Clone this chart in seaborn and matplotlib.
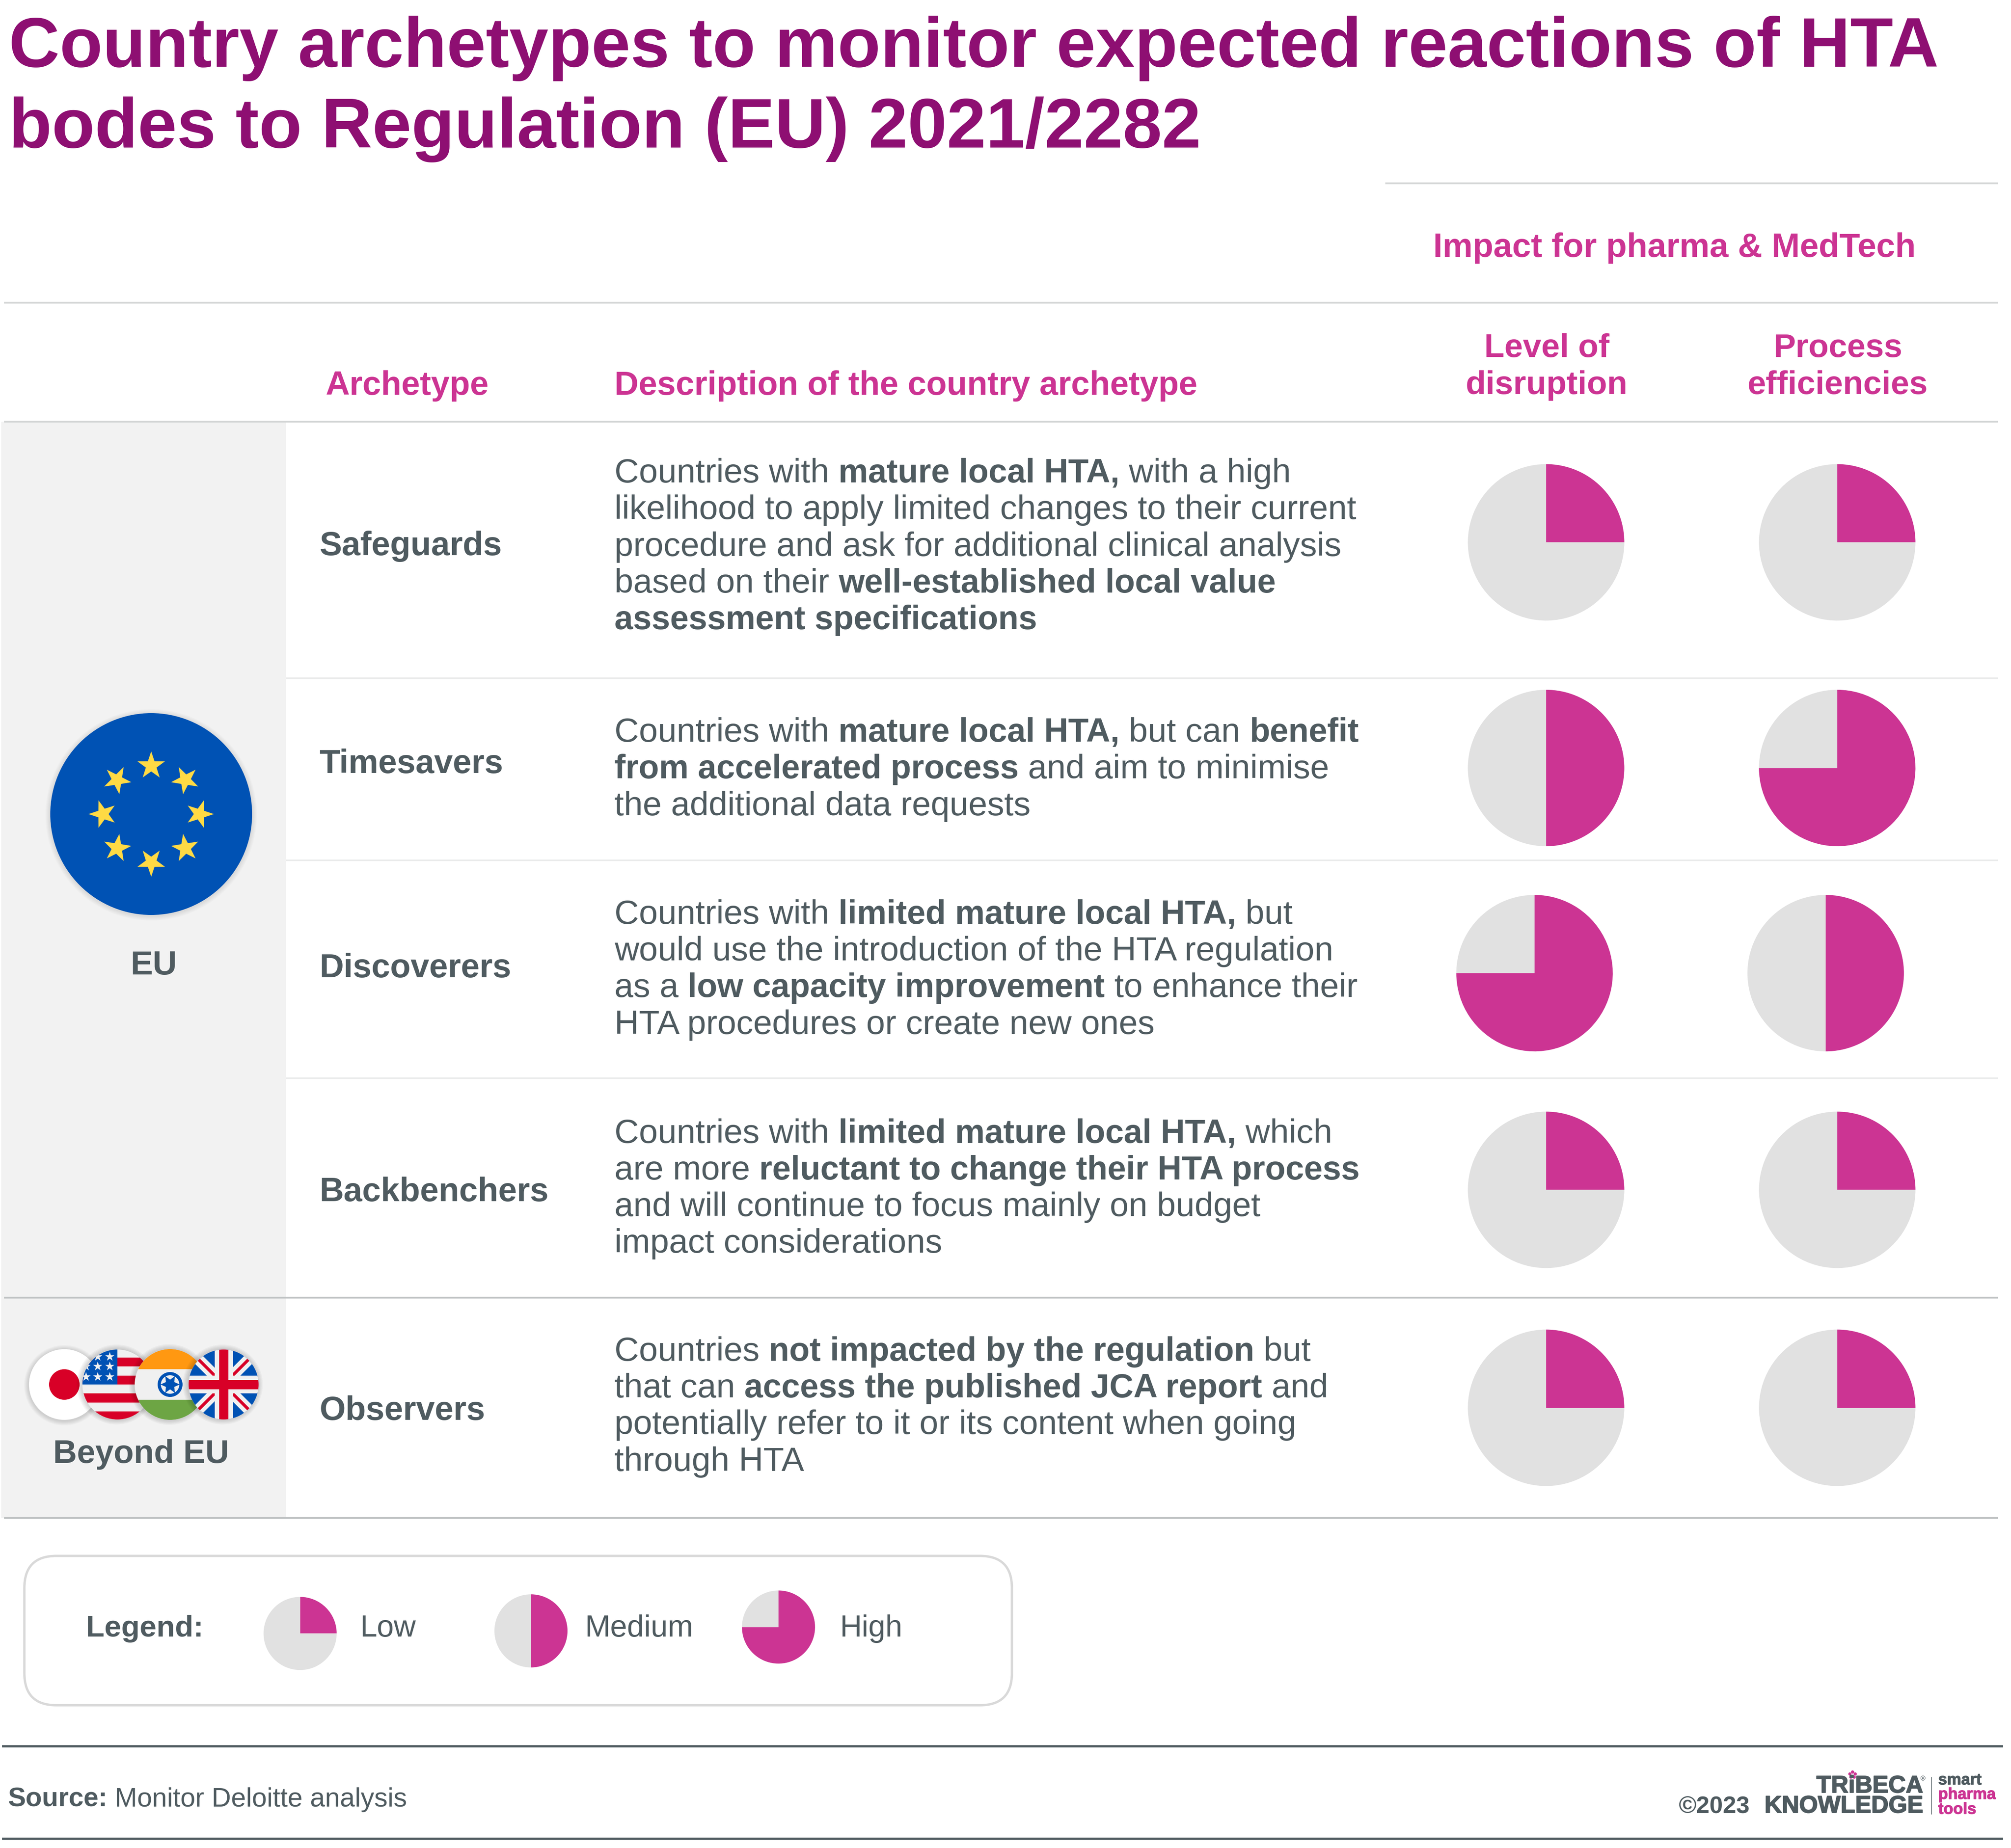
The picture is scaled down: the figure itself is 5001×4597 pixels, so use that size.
#!/usr/bin/env python3
import numpy as np
import seaborn as sns
import matplotlib
matplotlib.use("Agg")
import matplotlib.pyplot as plt
import matplotlib.patheffects as pe
from matplotlib.font_manager import FontProperties
from matplotlib.patches import Circle, FancyBboxPatch, Polygon, Rectangle

W, H = 5001, 4597
S = 5001 / 1568  # layout below is measured on a 1568 wide view

TITLE = ["Country archetypes to monitor expected reactions of HTA",
         "bodes to Regulation (EU) 2021/2282"]
ARCHETYPES = ["Safeguards", "Timesavers", "Discoverers", "Backbenchers", "Observers"]
DESCRIPTIONS = [
    ["Countries with *mature local HTA,* with a high",
     "likelihood to apply limited changes to their current",
     "procedure and ask for additional clinical analysis",
     "based on their *well-established local value*",
     "*assessment specifications*"],
    ["Countries with *mature local HTA,* but can *benefit*",
     "*from accelerated process* and aim to minimise",
     "the additional data requests"],
    ["Countries with *limited mature local HTA,* but",
     "would use the introduction of the HTA regulation",
     "as a *low capacity improvement* to enhance their",
     "HTA procedures or create new ones"],
    ["Countries with *limited mature local HTA,* which",
     "are more *reluctant to change their HTA process*",
     "and will continue to focus mainly on budget",
     "impact considerations"],
    ["Countries *not impacted by the regulation* but",
     "that can *access the published JCA report* and",
     "potentially refer to it or its content when going",
     "through HTA"],
]
DISRUPTION = [0.25, 0.50, 0.75, 0.25, 0.25]
EFFICIENCIES = [0.25, 0.75, 0.50, 0.25, 0.25]
LEGEND_LABELS = ["Low", "Medium", "High"]
LEGEND_SHARES = [0.25, 0.50, 0.75]

# layout, view pixels
DESC_BASE = [376.3, 578.5, 720.5, 891.3, 1061.3]
ARCH_BASE = [433, 603, 762.3, 937, 1107.3]
PIE_Y = [423, 599, 759, 928, 1098]
PIE_X1 = [1205.5, 1205.5, 1196.5, 1205.5, 1205.5]
PIE_X2 = [1432.5, 1432.5, 1423.5, 1432.5, 1432.5]
LEG_PIE = [(234, 1274), (414, 1272), (607, 1269)]
LEG_TEXT = [281, 456, 655]

PURPLE = "#8E0F72"
PINK = "#CC3493"
SLATE = "#4F5B60"
PANEL = "#F2F2F2"
RULE = "#D4D6D6"
BLUE = "#0052B4"
RED = "#D80027"
YELLOW = "#FFDA44"

sns.set_theme(style="white")
plt.rcParams["font.family"] = ["Liberation Sans", "DejaVu Sans"]
PIE_COLORS = sns.color_palette([PINK, "#E1E1E1"])

fig = plt.figure(figsize=(W / 100, H / 100), dpi=100)
ax = fig.add_axes([0, 0, 1, 1])
renderer = fig.canvas.get_renderer()


def X(v):
    return v * S


def Y(v):
    return H - v * S


def advance(s, size, weight):
    fp = FontProperties(family="Liberation Sans", size=size, weight=weight)
    a = renderer.get_text_width_height_descent("|" + s + "|", fp, False)[0]
    b = renderer.get_text_width_height_descent("||", fp, False)[0]
    return a - b


def rich(x, y, line, size, bold_size, color=SLATE):
    # *...* marks the bold runs of a line
    cur = X(x)
    for i, run in enumerate(line.split("*")):
        if not run:
            continue
        weight = "bold" if i % 2 else "normal"
        fs = bold_size if i % 2 else size
        ax.text(cur, Y(y), run, fontsize=fs, color=color, weight=weight, va="baseline", ha="left")
        cur += advance(run, fs, weight)


def label(x, y, s, size=60, color=SLATE, weight="bold", ha="left"):
    return ax.text(X(x), Y(y), s, fontsize=size, color=color, weight=weight, ha=ha, va="baseline", zorder=12)


def hline(y, x0, x1, color=RULE, lw=3.2):
    ax.plot([X(x0), X(x1)], [Y(y), Y(y)], color=color, lw=lw, solid_capstyle="butt", zorder=2)


def share_pie(cx, cy, r, share):
    wedges, _ = ax.pie([share, 1 - share], colors=PIE_COLORS, startangle=90, counterclock=False,
                       center=(X(cx), Y(cy)), radius=r * S, frame=True, wedgeprops={"linewidth": 0})
    for w in wedges:
        w.set_zorder(3)


def soft_shadow(cx, cy, r, alpha=0.022):
    for i in range(6, 0, -1):
        ax.add_patch(Circle((cx, cy - 2), r + i * 2, fc="black", ec="none", alpha=alpha, zorder=3))


def star_points(cx, cy, r_out, r_in, n=5, rot=90):
    ang = np.deg2rad(rot + np.arange(2 * n) * 180 / n)
    rad = np.where(np.arange(2 * n) % 2 == 0, r_out, r_in)
    return np.c_[cx + rad * np.cos(ang), cy + rad * np.sin(ang)]


def clipped(patch, disc):
    ax.add_patch(patch)
    patch.set_clip_path(disc)
    return patch


# panels and rules
ax.add_patch(Rectangle((X(1), Y(1184)), X(222), 855 * S, fc=PANEL, ec="none", zorder=1))
hline(143, 1080, 1558)
hline(236, 3, 1558)
hline(329, 3, 1558)
for yy in [529, 671, 841]:
    hline(yy, 223, 1558, color="#E9EAEA", lw=2.6)
hline(1012, 3, 1558, color="#BFC2C3")
hline(1184, 3, 1558, color="#BFC2C3")
hline(1362, 1.6, 1561.7, color=SLATE, lw=4)
hline(1434, 1.6, 1561.7, color=SLATE, lw=4)
ax.add_patch(FancyBboxPatch((X(19), Y(1330)), 770 * S, 116.5 * S,
                            boxstyle=f"round,pad=0,rounding_size={25 * S}",
                            fc="white", ec="#D9D9D9", lw=4.2, zorder=2))

# title and headers
for line, base in zip(TITLE, [52, 115]):
    label(7, base, line, size=125.9, color=PURPLE)
label(1305.5, 200.5, "Impact for pharma & MedTech", size=60.6, color=PINK, ha="center")
label(254, 308, "Archetype", size=59.8, color=PINK)
label(479, 308, "Description of the country archetype", size=59.9, color=PINK)
for xc, top, bottom in [(1206, "Level of", "disruption"), (1433, "Process", "efficiencies")]:
    label(xc, 278.3, top, size=59.3, color=PINK, ha="center")
    label(xc, 307.3, bottom, size=59.3, color=PINK, ha="center")

# table rows
for i, name in enumerate(ARCHETYPES):
    label(249, ARCH_BASE[i], name)
    for j, line in enumerate(DESCRIPTIONS[i]):
        rich(479, DESC_BASE[i] + j * 28.6, line, 60.7, 59.8)
    share_pie(PIE_X1[i], PIE_Y[i], 61, DISRUPTION[i])
    share_pie(PIE_X2[i], PIE_Y[i], 61, EFFICIENCIES[i])

# legend
label(67, 1276.3, "Legend:", size=54)
for (px, py), share, tx, name in zip(LEG_PIE, LEGEND_SHARES, LEG_TEXT, LEGEND_LABELS):
    share_pie(px, py, 28.5, share)
    label(tx, 1276.3, name, size=54.5, weight="normal")

# EU flag
cx, cy, r = 376, H - 2025, 251
soft_shadow(cx, cy, r, alpha=0.014)
ax.add_patch(Circle((cx, cy), r, fc=BLUE, ec="none", zorder=4))
for a in np.arange(8) * 45:
    sx = cx + 120 * np.cos(np.deg2rad(a))
    sy = cy + 120 * np.sin(np.deg2rad(a))
    # stars point away from the middle of the ring
    ax.add_patch(Polygon(star_points(sx, sy, 36, 14, rot=a), fc=YELLOW, ec="none", zorder=5))
label(120, 760, "EU", ha="center")

# flags beyond the EU, real pixels measured from the crop
fy_ = H - 3444
japan = (160, 88)
usa = (292, 87)
india = (423, 88)
uk = (556, 87)

soft_shadow(japan[0], fy_, japan[1])
ax.add_patch(Circle((japan[0], fy_), japan[1], fc="white", ec="none", zorder=6))
ax.add_patch(Circle((japan[0], fy_), 38, fc=RED, ec="none", zorder=6))


def flag_disc(cx, r, z):
    for i in range(5, 0, -1):
        ax.add_patch(Circle((cx - 2, fy_), r + i * 2.5, fc="black", ec="none", alpha=0.03, zorder=z - 0.5))
    disc = Circle((cx, fy_), r, fc="#F0F0F0", ec="none", zorder=z)
    ax.add_patch(disc)
    return disc


d = flag_disc(usa[0], usa[1], 7)
for bottom in [0, 44.8, -44.8, -89.6]:
    clipped(Rectangle((usa[0] - 90, fy_ + bottom), 180, 22.4, fc=RED, ec="none", zorder=7.1), d)
clipped(Rectangle((usa[0] - 90, fy_), 90, 90, fc=BLUE, ec="none", zorder=7.2), d)
for dx in [-78, -49, -19]:
    for dy in [19, 45, 69]:
        clipped(Polygon(star_points(usa[0] + dx, fy_ + dy, 12, 4.6), fc="#F0F0F0", ec="none", zorder=7.3), d)

d = flag_disc(india[0], india[1], 8)
clipped(Rectangle((india[0] - 90, fy_ + 38), 180, 60, fc="#FF9811", ec="none", zorder=8.1), d)
clipped(Rectangle((india[0] - 90, fy_ - 98), 180, 60, fc="#6DA544", ec="none", zorder=8.1), d)
ax.add_patch(Circle((india[0], fy_), 31, fc=BLUE, ec="none", zorder=8.2))
ax.add_patch(Circle((india[0], fy_), 23, fc="#F0F0F0", ec="none", zorder=8.3))
ax.add_patch(Polygon(star_points(india[0], fy_, 24, 12, n=6, rot=0), fc=BLUE, ec="none", zorder=8.4))

d = flag_disc(uk[0], uk[1], 9)
clipped(Rectangle((uk[0] - 90, fy_ - 90), 180, 180, fc=BLUE, ec="none", zorder=9.1), d)
for sgn in [1, -1]:
    ln, = ax.plot([uk[0] - 90, uk[0] + 90], [fy_ - sgn * 90, fy_ + sgn * 90], color="#F0F0F0", lw=20,
                  solid_capstyle="butt", zorder=9.2)
    ln.set_clip_path(d)
    ln, = ax.plot([uk[0] - 90, uk[0] + 90], [fy_ - sgn * 90, fy_ + sgn * 90], color=RED, lw=5.5,
                  solid_capstyle="butt", zorder=9.3)
    ln.set_clip_path(d)
clipped(Rectangle((uk[0] - 22.5, fy_ - 90), 45, 180, fc="#F0F0F0", ec="none", zorder=9.4), d)
clipped(Rectangle((uk[0] - 90, fy_ - 22), 180, 44, fc="#F0F0F0", ec="none", zorder=9.4), d)
clipped(Rectangle((uk[0] - 11.5, fy_ - 90), 23, 180, fc=RED, ec="none", zorder=9.5), d)
clipped(Rectangle((uk[0] - 90, fy_ - 11.5), 180, 23, fc=RED, ec="none", zorder=9.5), d)
label(110, 1141, "Beyond EU", size=59, ha="center")

# footer
rich(6, 1409, "*Source:* Monitor Deloitte analysis", 48, 48)
stroke = [pe.withStroke(linewidth=1.5, foreground=SLATE)]
ax.text(4517, H - 4459, "TRiBECA", fontsize=43, weight="bold", color=SLATE, path_effects=stroke)
ax.text(4388, H - 4509, "KNOWLEDGE", fontsize=43, weight="bold", color=SLATE, path_effects=stroke)
ax.text(4174, H - 4509, "©2023", fontsize=43, weight="bold", color=SLATE)
ax.text(4776, H - 4430, "®", fontsize=12, color=SLATE)
ax.plot([4803, 4803], [H - 4421, H - 4513], color=SLATE, lw=1.2)
for s, yy, col in [("smart", 4439, SLATE), ("pharma", 4475, PINK), ("tools", 4512, PINK)]:
    ax.text(4820, H - yy, s, fontsize=28.5, weight="bold", color=col,
            path_effects=[pe.withStroke(linewidth=1, foreground=col)])
for a in np.arange(5) * 72 + 90:
    ax.add_patch(Circle((4607 + 7 * np.cos(np.deg2rad(a)), H - 4415 + 7 * np.sin(np.deg2rad(a))), 4, fc=PINK, ec="none"))

ax.set_xlim(0, W)
ax.set_ylim(0, H)
ax.set_aspect("auto")
ax.axis("off")
fig.savefig("out.png", dpi=100, facecolor="white")
